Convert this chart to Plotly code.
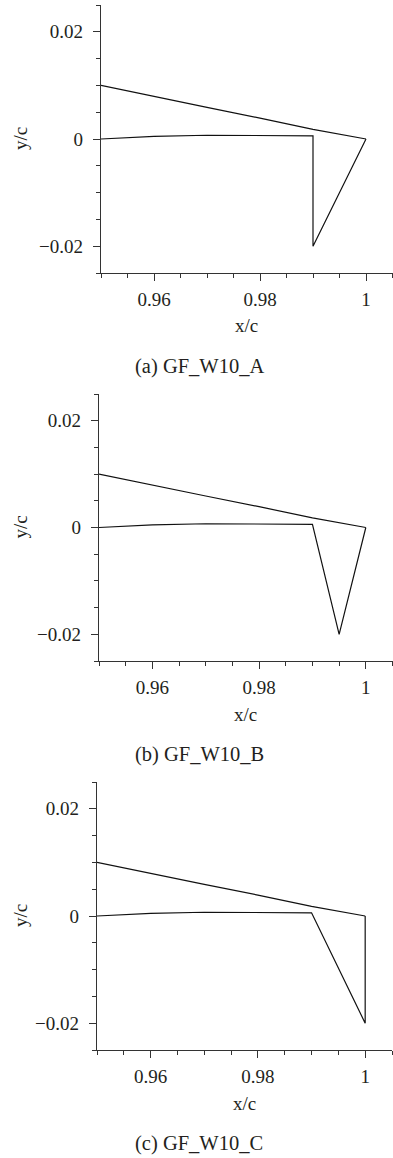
import plotly.graph_objects as go

# ---- data ----
upper_x = [0.95, 0.96, 0.97, 0.98, 0.99, 1.0]
upper_y = [0.0100, 0.0079, 0.0059, 0.0039, 0.0018, 0.0]
lower_x = [0.95, 0.96, 0.97, 0.98, 0.99]
lower_y = [0.0, 0.0005, 0.0007, 0.0007, 0.0006]
flap_x = {
    "A": [0.99, 0.99, 1.0],
    "B": [0.99, 0.995, 1.0],
    "C": [0.99, 1.0, 1.0],
}
flap_y = {
    "A": [0.0006, -0.02, 0.0],
    "B": [0.0006, -0.02, 0.0],
    "C": [0.0006, -0.02, 0.0],
}
captions = ["(a) GF_W10_A", "(b) GF_W10_B", "(c) GF_W10_C"]
keys = ["A", "B", "C"]
x_tickvals = [0.96, 0.98, 1.0]
x_ticktext = ["0.96", "0.98", "1"]
y_tickvals = [-0.02, 0.0, 0.02]
y_ticktext = ["\u22120.02", "0", "0.02"]

W, H = 393, 1158
FONT = "Liberation Serif, Times New Roman, serif"
TXT = "#231f20"
AX = "#333333"

# pixel geometry of each panel: (left, right, top, bottom)
panels = [(101, 392.5, 5, 273), (99, 392.5, 394, 661), (97, 392, 782, 1050)]

fig = go.Figure()
annotations = []
for i, (k, (l, r, t, b)) in enumerate(zip(keys, panels)):
    n = "" if i == 0 else str(i + 1)
    xa, ya = "x" + n, "y" + n
    line = dict(color="#111111", width=1.2)
    fig.add_trace(go.Scatter(x=upper_x, y=upper_y, mode="lines", line=line,
                             xaxis=xa, yaxis=ya, showlegend=False, hoverinfo="skip"))
    fig.add_trace(go.Scatter(x=lower_x + flap_x[k][1:], y=lower_y + flap_y[k][1:],
                             mode="lines", line=line,
                             xaxis=xa, yaxis=ya, showlegend=False, hoverinfo="skip"))
    common = dict(showgrid=False, zeroline=False, showline=True, linecolor=AX,
                  linewidth=1.3, ticks="outside", ticklen=7, tickwidth=1.2,
                  tickcolor=AX, tickfont=dict(family=FONT, size=19, color=TXT))
    fig.layout["xaxis" + n] = dict(
        common, domain=[l / W, r / W], range=[0.95, 1.005], anchor=ya,
        tickmode="array", tickvals=x_tickvals, ticktext=x_ticktext,
        ticklabelstandoff=2,
        minor=dict(ticks="outside", dtick=0.005, tick0=0.95, ticklen=4,
                   tickwidth=1.1, tickcolor=AX, showgrid=False))
    fig.layout["yaxis" + n] = dict(
        common, domain=[1 - b / H, 1 - t / H], range=[-0.025, 0.025], anchor=xa,
        tickmode="array", tickvals=y_tickvals, ticktext=y_ticktext,
        ticklabelstandoff=6,
        minor=dict(ticks="outside", dtick=0.005, tick0=-0.025, ticklen=4,
                   tickwidth=1.1, tickcolor=AX, showgrid=False))
    annotations.append(dict(text="x/c", xref="paper", yref="paper",
                            x=(l + r) / 2 / W, y=1 - (b + 53) / H,
                            xanchor="center", yanchor="middle", showarrow=False,
                            font=dict(family=FONT, size=19, color=TXT)))
    annotations.append(dict(text="y/c", xref="paper", yref="paper",
                            x=20 / W, y=1 - (t + b) / 2 / H, textangle=-90,
                            xanchor="center", yanchor="middle", showarrow=False,
                            font=dict(family=FONT, size=19, color=TXT)))
    annotations.append(dict(text=captions[i], xref="paper", yref="paper",
                            x=199 / W, y=1 - (b + 93) / H,
                            xanchor="center", yanchor="middle", showarrow=False,
                            font=dict(family=FONT, size=20.5, color=TXT)))

fig.update_layout(width=W, height=H, margin=dict(l=0, r=0, t=0, b=0),
                  paper_bgcolor="white", plot_bgcolor="white",
                  font=dict(family=FONT, color=TXT),
                  annotations=annotations)
fig.write_html("out.html", config={"displayModeBar": False},
               post_script="document.body.style.margin='0px';document.body.style.padding='0px';")
